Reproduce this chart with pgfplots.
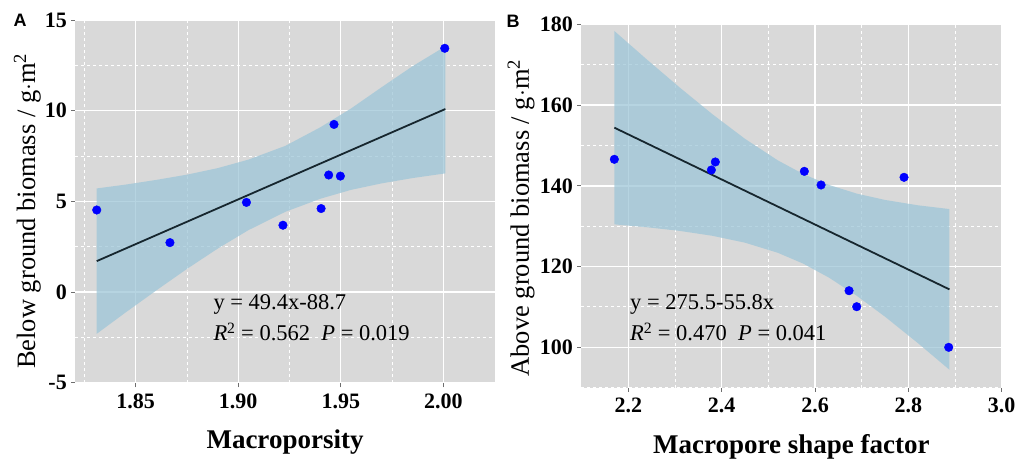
\documentclass[border=0pt]{standalone}
\usepackage{fontspec}
\setmainfont{Liberation Serif}
\newfontfamily\panelfont{Liberation Sans}
\usepackage{pgfplots}
\pgfplotsset{compat=1.18}

\definecolor{panelgray}{RGB}{217,217,217}
\definecolor{bandblue}{RGB}{158,198,216}
\definecolor{fitline}{RGB}{22,38,46}
\definecolor{tickgray}{RGB}{110,110,110}

\pgfplotsset{
  ggpanel/.style={
    scale only axis,
    anchor=south west,
    axis background/.style={fill=panelgray},
    axis line style={draw=none},
    tick align=outside,
    tickpos=left,
    major tick length=4bp,
    minor tick length=0pt,
    tick style={color=tickgray, line width=0.8bp},
    grid=both,
    major grid style={white, line width=1.4bp},
    minor grid style={white, line width=0.9bp, dash pattern=on 3bp off 3bp},
    ticklabel style={font=\bfseries\fontsize{22bp}{22bp}\selectfont},
    xticklabel style={inner sep=2bp, yshift=-4bp},
    yticklabel style={inner sep=2bp, xshift=-2bp},
    xlabel style={font=\bfseries\fontsize{27bp}{28bp}\selectfont, anchor=base},
    ylabel style={font=\fontsize{26.5bp}{28bp}\selectfont, anchor=base},
  },
  band/.style={fill=bandblue, fill opacity=0.75, draw=none},
  fit/.style={color=fitline, line width=1.8bp},
  pts/.style={only marks, mark=*, mark size=4.3bp, mark options={draw=blue, fill=blue}},
}

\begin{document}
\begin{tikzpicture}[x=1bp, y=1bp]
\useasboundingbox (0,0) rectangle (1018,459);

% panel A
\begin{axis}[ggpanel,
  at={(75bp,75.7bp)}, width=420bp, height=364bp,
  xmin=1.8204, xmax=2.0252, ymin=-5.04, ymax=15.04,
  xtick={1.85,1.90,1.95,2.00}, xticklabels={1.85,1.90,1.95,2.00},
  ytick={-5,0,5,10,15}, yticklabels={-5,0,5,10,15},
  minor xtick={1.825,1.875,1.925,1.975},
  minor ytick={-2.5,2.5,7.5,12.5},
  xlabel={Macroporsity},
  ylabel={Below ground biomass / g$\cdot$m\textsuperscript{2}},
  x label style={at={(axis description cs:0.5,-0.1805)}},
  y label style={at={(axis description cs:-0.095,0.473)}},
]
\addplot[band] coordinates {
  (1.831,5.71) (1.845,5.92) (1.860,6.18) (1.875,6.47) (1.890,6.83) (1.905,7.30)
  (1.923,8.06) (1.940,9.08) (1.955,10.12) (1.970,11.30) (1.985,12.45) (2.001,13.55)
  (2.001,6.54) (1.985,6.28) (1.970,5.99) (1.955,5.63) (1.940,5.14) (1.923,4.42)
  (1.905,3.41) (1.890,2.39) (1.875,1.27) (1.860,0.08) (1.845,-1.14) (1.831,-2.31)
} -- cycle;
\addplot[fit] coordinates {(1.831,1.70) (2.001,10.09)};
\addplot[pts] coordinates {
  (1.831,4.52) (1.8667,2.72) (1.904,4.94) (1.9218,3.68) (1.9404,4.60)
  (1.9441,6.45) (1.9467,9.24) (1.9498,6.39) (2.0007,13.44)
};
\end{axis}

% panel B
\begin{axis}[ggpanel,
  at={(581bp,71.3bp)}, width=420.7bp, height=363.4bp,
  xmin=2.0986, xmax=3.0, ymin=90, ymax=180,
  xtick={2.2,2.4,2.6,2.8,3.0}, xticklabels={2.2,2.4,2.6,2.8,3.0},
  ytick={100,120,140,160,180}, yticklabels={100,120,140,160,180},
  minor xtick={2.3,2.5,2.7,2.9},
  minor ytick={90,110,130,150,170},
  xlabel={Macropore shape factor},
  ylabel={Above ground biomass / g$\cdot$m\textsuperscript{2}},
  x label style={at={(axis description cs:0.5,-0.1805)}},
  y label style={at={(axis description cs:-0.124,0.467)}},
]
\addplot[band] coordinates {
  (2.170,178.35) (2.24,171.25) (2.31,164.35) (2.38,157.74) (2.45,151.63) (2.52,146.32)
  (2.574,142.96) (2.63,140.21) (2.69,138.05) (2.75,136.50) (2.82,135.18) (2.888,134.24)
  (2.888,94.44) (2.82,101.08) (2.75,107.58) (2.69,112.71) (2.63,117.25) (2.574,120.76)
  (2.52,123.42) (2.45,125.91) (2.38,127.62) (2.31,128.83) (2.24,129.73) (2.170,130.45)
} -- cycle;
\addplot[fit] coordinates {(2.17,154.4) (2.888,114.34)};
\addplot[pts] coordinates {
  (2.17,146.56) (2.3779,143.91) (2.3864,145.90) (2.5771,143.58) (2.6129,140.20)
  (2.6729,114.02) (2.6893,110.06) (2.7907,142.10) (2.8864,100.0)
};
\end{axis}

% equations
\begin{scope}[every node/.style={anchor=base west, inner sep=0pt, font=\fontsize{22.5bp}{24bp}\selectfont}]
\node at (213.3,149.7) {y = 49.4x-88.7};
\node at (213.3,118.3) {\textit{R}\textsuperscript{2} = 0.562\enspace\textit{P} = 0.019};
\node at (630,149) {y = 275.5-55.8x};
\node at (630,118) {\textit{R}\textsuperscript{2} = 0.470\enspace\textit{P} = 0.041};
\end{scope}

% panel letters
\node[font=\panelfont\bfseries\fontsize{18bp}{18bp}\selectfont, inner sep=0pt] at (20,438.5) {A};
\node[font=\panelfont\bfseries\fontsize{18bp}{18bp}\selectfont, inner sep=0pt] at (513,438) {B};
\end{tikzpicture}
\end{document}
